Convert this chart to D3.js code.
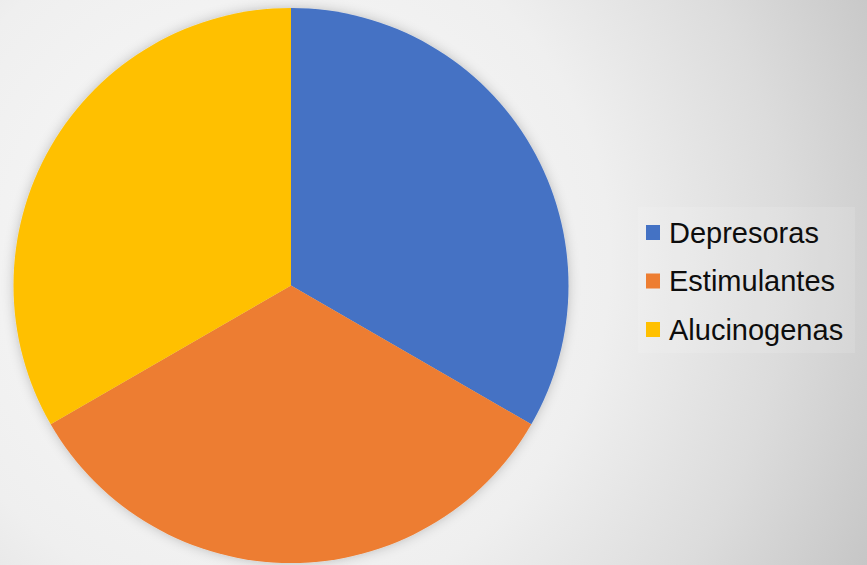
<!DOCTYPE html>
<html>
<head>
<meta charset="utf-8">
<script src="https://cdn.jsdelivr.net/npm/d3@7"></script>
<style>
  html, body { margin: 0; padding: 0; background: #e6e6e6; }
  svg { display: block; }
</style>
</head>
<body>
<svg id="chart" width="867" height="565"></svg>
<script>
// Drug categories and their shares
const categories = ["Depresoras", "Estimulantes", "Alucinogenas"];
const values = [33.3, 33.3, 33.3];
const colors = ["#4472C4", "#ED7D31", "#FFC000"];

const W = 867, H = 565;
const svg = d3.select("#chart");
const defs = svg.append("defs");

// Soft radial background
const bg = defs.append("radialGradient")
  .attr("id", "bg")
  .attr("gradientUnits", "userSpaceOnUse")
  .attr("cx", 260).attr("cy", 260).attr("r", 700);
[[0, "#fbfbfb"], [0.5, "#efefef"], [0.75, "#dcdcdc"], [1, "#c3c3c3"]]
  .forEach(([o, c]) => bg.append("stop").attr("offset", o).attr("stop-color", c));
svg.append("rect").attr("width", W).attr("height", H).attr("fill", "url(#bg)");

// Glow-like shadow around the pie
const f = defs.append("filter").attr("id", "glow")
  .attr("x", "-10%").attr("y", "-10%").attr("width", "120%").attr("height", "120%");
f.append("feDropShadow").attr("dx", 0).attr("dy", 0)
  .attr("stdDeviation", 6).attr("flood-color", "#000").attr("flood-opacity", 0.22);

// Pie
const cx = 291, cy = 285.5, R = 277.5;
const pie = d3.pie().sort(null).value(d => d.v);
const arc = d3.arc().innerRadius(0).outerRadius(R);
const data = categories.map((c, i) => ({ name: c, v: values[i], color: colors[i] }));
const color = d3.scaleOrdinal().domain(categories).range(colors);

svg.append("g")
  .attr("transform", `translate(${cx},${cy})`)
  .attr("filter", "url(#glow)")
  .selectAll("path")
  .data(pie(data))
  .join("path")
  .attr("d", arc)
  .attr("fill", d => color(d.data.name));

// Legend
const legend = svg.append("g");
legend.append("rect")
  .attr("x", 638).attr("y", 207).attr("width", 217).attr("height", 146)
  .attr("fill", "#ffffff").attr("fill-opacity", 0.12);

const ly = d3.scalePoint().domain(categories).range([232.5, 329.5]);
const items = legend.selectAll("g.item")
  .data(categories)
  .join("g")
  .attr("class", "item")
  .attr("transform", d => `translate(646,${ly(d)})`);
items.append("rect")
  .attr("x", 0).attr("y", -7.5).attr("width", 14).attr("height", 15)
  .attr("fill", d => color(d));
items.append("text")
  .attr("x", 23).attr("y", 10)
  .attr("font-family", "Liberation Sans, Arial, sans-serif")
  .attr("font-size", 29)
  .attr("fill", "#0d0d0d")
  .text(d => d);
</script>
</body>
</html>
